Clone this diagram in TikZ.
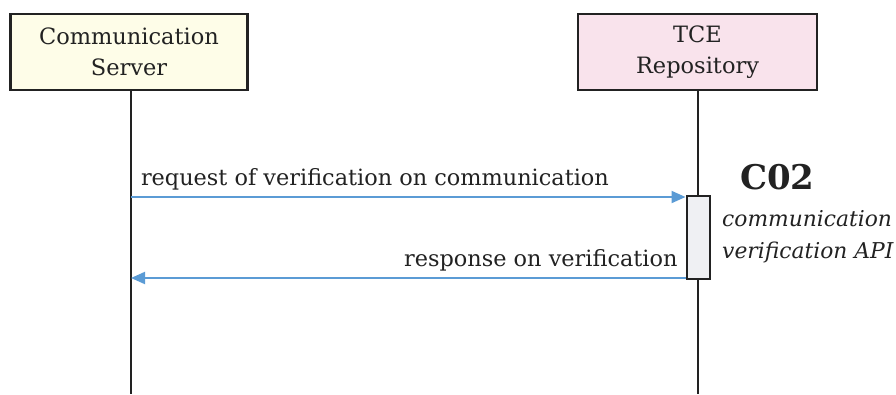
\documentclass[tikz,border=0pt]{standalone}
\usepackage{fontspec}
\setmainfont{DejaVu Serif}
\usepackage{tikz}
\usetikzlibrary{positioning,calc,arrows.meta}

\definecolor{servfill}{HTML}{FEFDE8}
\definecolor{repofill}{HTML}{F9E3EC}
\definecolor{actfill}{HTML}{EFF0F3}
\definecolor{msgblue}{HTML}{5B9BD5}
\definecolor{ink}{HTML}{222222}

\begin{document}
\begin{tikzpicture}[
    x=1pt, y=-1pt,
    actor/.style={draw=ink, line width=2.2pt, minimum width=237pt, minimum height=76pt,
      align=center, font=\fontsize{22.5}{31}\selectfont, text=ink},
    lifeline/.style={draw=ink, line width=1.5pt},
    activation/.style={draw=ink, fill=actfill, line width=2pt, minimum width=23pt, minimum height=83pt, inner sep=0pt},
    message/.style={draw=msgblue, line width=2pt, -{Triangle[length=14pt,width=12pt]}},
    msglabel/.style={font=\fontsize{22.4}{26}\selectfont, text=ink, inner sep=0pt}
    ]
    \useasboundingbox (0,0) rectangle (896,394);

    % participants
    \node[actor, fill=servfill] (server) at (129,52) {Communication\\Server};
    \node[actor, fill=repofill, minimum width=239pt] (repo) at (697.5,52) {TCE\\Repository};

    % lifelines
    \coordinate (serverend) at (131,394);
    \coordinate (repoend) at (698,394);
    \draw[lifeline] (server.south -| serverend) -- (serverend);
    \draw[lifeline] (repo.south -| repoend) -- (repoend);

    % activation on the repository
    \node[activation] (act) at (698,237.5) {};

    % messages
    \coordinate (reqstart) at (131,197);
    \coordinate (respend) at (131,278);
    \draw[message] (reqstart) -- (act.west |- reqstart)
      node[msglabel, pos=0, anchor=south west, xshift=9pt, yshift=6pt] (reqlabel) {request of verification on communication};
    \draw[message] (act.west |- respend) -- (respend)
      node[msglabel, pos=0, anchor=south east, xshift=-7pt, yshift=6pt] (resplabel) {response on verification};

    % interface label
    \node[font=\fontsize{34}{40}\selectfont\bfseries, text=ink, anchor=south west, inner sep=0pt] (code) at (740,190) {C02};
    \node[font=\fontsize{21.8}{32}\selectfont\itshape, text=ink, align=left, anchor=north west, inner sep=0pt] (api) at (722,210) {communication\\verification API};
  \end{tikzpicture}
\end{document}
